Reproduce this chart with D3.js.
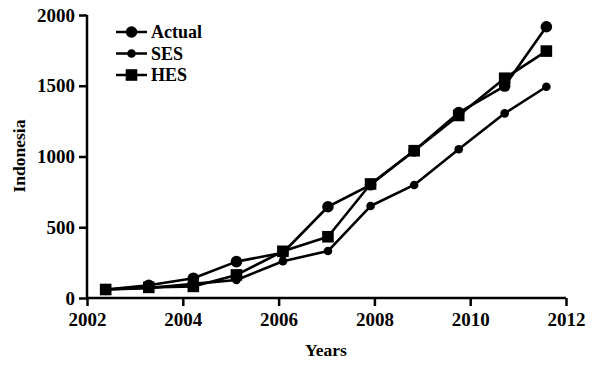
<!DOCTYPE html>
<html>
<head>
<meta charset="utf-8">
<script src="https://cdn.jsdelivr.net/npm/d3@7"></script>
<style>
  html, body { margin: 0; padding: 0; background: #fff; }
  svg { display: block; }
  text { font-family: "Liberation Serif", "Times New Roman", serif; font-weight: bold; fill: #000; }
</style>
</head>
<body>
<svg id="chart" width="594" height="365"></svg>
<script>
// Observation positions along the year axis
const years = [2002.39, 2003.29, 2004.22, 2005.12, 2006.09, 2007.03, 2007.92, 2008.83, 2009.76, 2010.72, 2011.59];
const actual = [60, 90, 140, 257, 320, 645, 800, 1040, 1310, 1498, 1917];
const ses    = [60, 70, 100, 127, 260, 332, 650, 799, 1051, 1305, 1493];
const hes    = [60, 75, 82, 163, 330, 433, 806, 1041, 1290, 1553, 1745];
const xTicks = [2002, 2004, 2006, 2008, 2010, 2012];
const yTicks = [0, 500, 1000, 1500, 2000];
const seriesNames = ["Actual", "SES", "HES"];

const svg = d3.select("#chart");
const x = d3.scaleLinear().domain([2002, 2012]).range([87, 566]);
const y = d3.scaleLinear().domain([0, 2000]).range([298, 15]);

// Axes
const yAxis = d3.axisLeft(y).tickValues(yTicks).tickSize(8).tickPadding(4).tickFormat(d3.format("d"));
const xAxis = d3.axisBottom(x).tickValues(xTicks).tickSize(8).tickPadding(7).tickFormat(d3.format("d"));

const gy = svg.append("g").attr("transform", "translate(87,0)").call(yAxis);
const gx = svg.append("g").attr("transform", "translate(0,298)").call(xAxis);
[gy, gx].forEach(g => {
  g.select(".domain").attr("stroke", "#000").attr("stroke-width", 2.5);
  g.selectAll(".tick line").attr("stroke", "#000").attr("stroke-width", 2.5);
  g.selectAll(".tick text").style("font-size", "19px").style("font-family", "Liberation Serif, serif").style("font-weight", "bold").attr("fill", "#000");
});
gy.select(".domain").attr("d", "M0,298V15");
gx.select(".domain").attr("d", "M87,0H566");

// Axis titles
svg.append("text").attr("x", 326).attr("y", 356).attr("text-anchor", "middle")
  .style("font-size", "17.5px").text("Years");
svg.append("text").attr("transform", "translate(25,156) rotate(-90)").attr("text-anchor", "middle")
  .style("font-size", "17.5px").text("Indonesia");

// Series
const series = [
  { name: seriesNames[0], values: actual, marker: "bigCircle" },
  { name: seriesNames[1], values: ses, marker: "smallCircle" },
  { name: seriesNames[2], values: hes, marker: "square" }
];

const line = d3.line().x(d => x(d[0])).y(d => y(d[1]));

function drawMarker(g, type, cx, cy) {
  if (type === "bigCircle") {
    g.append("circle").attr("cx", cx).attr("cy", cy).attr("r", 5.8).attr("fill", "#000");
  } else if (type === "smallCircle") {
    g.append("circle").attr("cx", cx).attr("cy", cy).attr("r", 4.3).attr("fill", "#000");
  } else {
    g.append("rect").attr("x", cx - 5.8).attr("y", cy - 5.8).attr("width", 11.6).attr("height", 11.6).attr("fill", "#000");
  }
}

series.forEach(s => {
  const pts = years.map((yr, i) => [yr, s.values[i]]);
  svg.append("path").datum(pts).attr("d", line)
    .attr("fill", "none").attr("stroke", "#000").attr("stroke-width", 2.6).attr("stroke-linejoin", "round");
});
series.forEach(s => {
  const g = svg.append("g");
  years.forEach((yr, i) => drawMarker(g, s.marker, x(yr), y(s.values[i])));
});

// Legend
const legend = svg.append("g");
series.forEach((s, i) => {
  const ly = 32 + i * 21.5;
  legend.append("line").attr("x1", 116).attr("x2", 147).attr("y1", ly).attr("y2", ly)
    .attr("stroke", "#000").attr("stroke-width", 2.5);
  drawMarker(legend, s.marker, 131.5, ly);
  legend.append("text").attr("x", 151).attr("y", ly).attr("dy", "0.35em")
    .style("font-size", "18px").text(s.name);
});
</script>
</body>
</html>
